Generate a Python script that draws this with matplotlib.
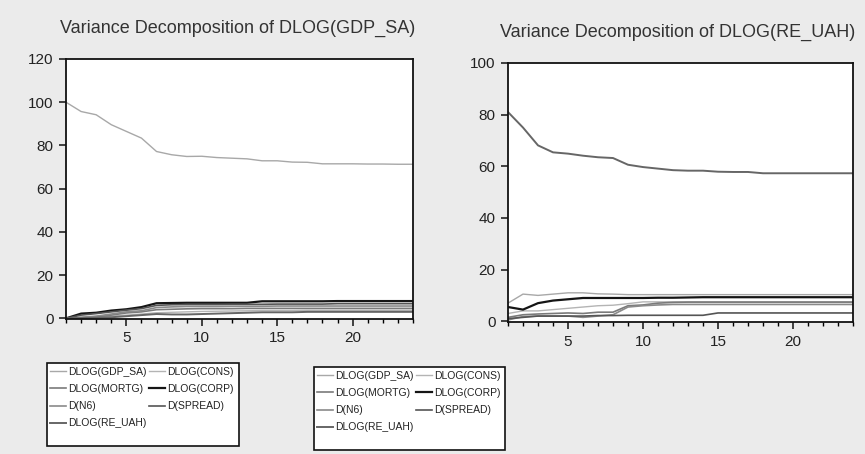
import numpy as np
import matplotlib
matplotlib.use("Agg")
import matplotlib.pyplot as plt
from matplotlib.ticker import MultipleLocator
from matplotlib.patches import Rectangle

plt.rcParams['font.family'] = ['Liberation Sans', 'DejaVu Sans']

periods = np.arange(1, 25)
labels = ['DLOG(GDP_SA)', 'DLOG(CONS)', 'DLOG(MORTG)', 'DLOG(CORP)',
          'D(N6)', 'D(SPREAD)', 'DLOG(RE_UAH)']

# variance decomposition of DLOG(GDP_SA), percent
gdp_gdp = [100, 95.7, 94.2, 89.6, 86.5, 83.4, 77.2, 75.7, 74.9, 75.0, 74.4, 74.1,
           73.8, 72.9, 72.9, 72.3, 72.2, 71.5, 71.5, 71.5, 71.4, 71.4, 71.3, 71.3]
gdp_cons = [0, 0.2, 0.5, 1.0, 1.5, 2.0, 2.6, 2.8, 3.0, 3.2, 3.3, 3.4,
            3.5, 3.6, 3.6, 3.6, 3.7, 3.7, 3.7, 3.7, 3.7, 3.7, 3.7, 3.7]
gdp_mortg = [0, 0.3, 0.8, 1.5, 2.5, 3.0, 4.0, 4.2, 4.4, 4.5, 4.5, 4.5,
             4.6, 4.6, 4.6, 4.6, 4.6, 4.6, 4.6, 4.6, 4.6, 4.6, 4.6, 4.6]
gdp_corp = [0, 2.2, 2.6, 3.6, 4.2, 5.2, 7.0, 7.1, 7.2, 7.2, 7.2, 7.2,
            7.2, 7.9, 7.9, 7.9, 7.9, 7.9, 8.0, 8.0, 8.0, 8.0, 8.0, 8.0]
gdp_n6 = [0, 0.5, 1.0, 2.0, 3.0, 3.5, 5.0, 5.3, 5.5, 5.5, 5.5, 5.6,
          5.6, 5.6, 5.7, 5.7, 5.7, 5.7, 5.7, 5.7, 5.7, 5.7, 5.7, 5.7]
gdp_spread = [0, 1.5, 2.2, 3.0, 3.8, 4.5, 6.0, 6.3, 6.4, 6.4, 6.4, 6.5,
              6.5, 6.5, 6.6, 6.6, 6.6, 6.6, 6.8, 6.8, 6.8, 6.8, 6.8, 6.8]
gdp_re = [0, 0.1, 0.3, 0.5, 1.0, 1.5, 2.0, 1.8, 1.8, 2.0, 2.2, 2.4,
          2.6, 2.8, 2.8, 2.8, 3.0, 3.0, 3.0, 3.0, 3.0, 3.0, 3.0, 3.0]

# variance decomposition of DLOG(RE_UAH), percent
re_gdp = [7.0, 10.5, 10.0, 10.5, 11.0, 11.0, 10.6, 10.5, 10.3, 10.3, 10.3, 10.3,
          10.3, 10.3, 10.3, 10.3, 10.3, 10.3, 10.3, 10.3, 10.3, 10.3, 10.3, 10.3]
re_cons = [3.0, 4.0, 4.0, 4.5, 5.0, 5.5, 6.0, 6.2, 6.8, 7.5, 7.5, 7.5,
           7.5, 7.5, 7.5, 7.5, 7.5, 7.5, 7.5, 7.5, 7.5, 7.5, 7.5, 7.5]
re_mortg = [1.5, 2.5, 2.8, 3.0, 3.2, 3.0, 3.5, 3.5, 6.0, 6.3, 7.0, 7.3,
            7.4, 7.4, 7.4, 7.4, 7.4, 7.4, 7.4, 7.4, 7.4, 7.4, 7.4, 7.4]
re_corp = [5.5, 4.5, 7.0, 8.0, 8.5, 9.0, 9.0, 9.0, 9.0, 9.0, 9.1, 9.1,
           9.2, 9.3, 9.3, 9.3, 9.3, 9.3, 9.3, 9.3, 9.3, 9.3, 9.3, 9.3]
re_n6 = [0.5, 1.8, 2.0, 2.0, 2.0, 1.5, 2.0, 2.5, 5.5, 6.0, 6.3, 6.5,
         6.5, 6.5, 6.5, 6.5, 6.5, 6.5, 6.5, 6.5, 6.5, 6.5, 6.5, 6.5]
re_spread = [1.0, 1.5, 2.0, 2.0, 2.0, 2.0, 2.2, 2.2, 2.3, 2.3, 2.3, 2.3,
             2.3, 2.3, 3.2, 3.2, 3.2, 3.2, 3.2, 3.2, 3.2, 3.2, 3.2, 3.2]
re_re = [81.0, 75.0, 68.1, 65.4, 64.9, 64.1, 63.5, 63.2, 60.6, 59.7, 59.1, 58.5,
         58.3, 58.3, 57.9, 57.8, 57.8, 57.3, 57.3, 57.3, 57.3, 57.3, 57.3, 57.3]

colors = ['#a8a8a8', '#b4b4b4', '#7a7a7a', '#151515', '#8a8a8a', '#555555', '#666666']
widths = [1.0, 1.0, 1.2, 1.6, 1.2, 1.2, 1.4]

W, H = 865, 454
panels = [
    ('Variance Decomposition of DLOG(GDP_SA)',
     [gdp_gdp, gdp_cons, gdp_mortg, gdp_corp, gdp_n6, gdp_spread, gdp_re],
     [66 / W, 1 - 319 / H, 347 / W, 260 / H], 120, (238, 28),
     (47, 363, 239, 446)),
    ('Variance Decomposition of DLOG(RE_UAH)',
     [re_gdp, re_cons, re_mortg, re_corp, re_n6, re_spread, re_re],
     [508 / W, 1 - 322 / H, 345 / W, 259 / H], 100, (678, 32),
     (314, 367, 505, 450)),
]

fig = plt.figure(figsize=(8.65, 4.54), dpi=100)
fig.patch.set_facecolor('#ebebeb')

for title, series, rect, ymax, tpos, lbox in panels:
    ax = fig.add_axes(rect)
    ax.set_facecolor('white')
    handles = []
    for vals, c, lw in zip(series, colors, widths):
        h, = ax.plot(periods, vals, color=c, lw=lw)
        handles.append(h)
    ax.set_xlim(1, 24)
    ax.set_ylim(-0.3, ymax)
    ax.yaxis.set_major_locator(MultipleLocator(20))
    ax.xaxis.set_major_locator(MultipleLocator(5))
    ax.xaxis.set_minor_locator(MultipleLocator(1))
    ax.tick_params(axis='both', which='major', direction='out', length=5,
                   width=1.2, labelsize=11, colors='#222222', pad=4)
    ax.tick_params(axis='x', which='minor', direction='out', length=3, width=1.0)
    for s in ax.spines.values():
        s.set_linewidth(1.3)
        s.set_color('#111111')
    fig.text(tpos[0] / W, 1 - tpos[1] / H, title, ha='center', va='center',
             fontsize=13, color='#333333')

    # legend box drawn by hand, entries placed inside it
    x0, y0, x1, y1 = lbox
    fig.patches.append(Rectangle((x0 / W, 1 - y1 / H), (x1 - x0) / W, (y1 - y0) / H,
                                 transform=fig.transFigure, facecolor='white',
                                 edgecolor='#111111', lw=1.2, zorder=1))
    # EViews fills legend row by row; matplotlib fills column by column
    order = [0, 2, 4, 6, 1, 3, 5]
    leg = fig.legend([handles[i] for i in order], [labels[i] for i in order],
                     ncol=2, loc='upper left',
                     bbox_to_anchor=((x0 + 3) / W, 1 - (y0 + 4) / H),
                     fontsize=7.5, frameon=False, handlelength=1.5,
                     handletextpad=0.2, labelspacing=0.68, columnspacing=0.3,
                     borderpad=0, borderaxespad=0)
    leg.set_zorder(2)
    for t in leg.get_texts():
        t.set_color('#222222')

fig.savefig('out.png', dpi=100, facecolor=fig.get_facecolor())
